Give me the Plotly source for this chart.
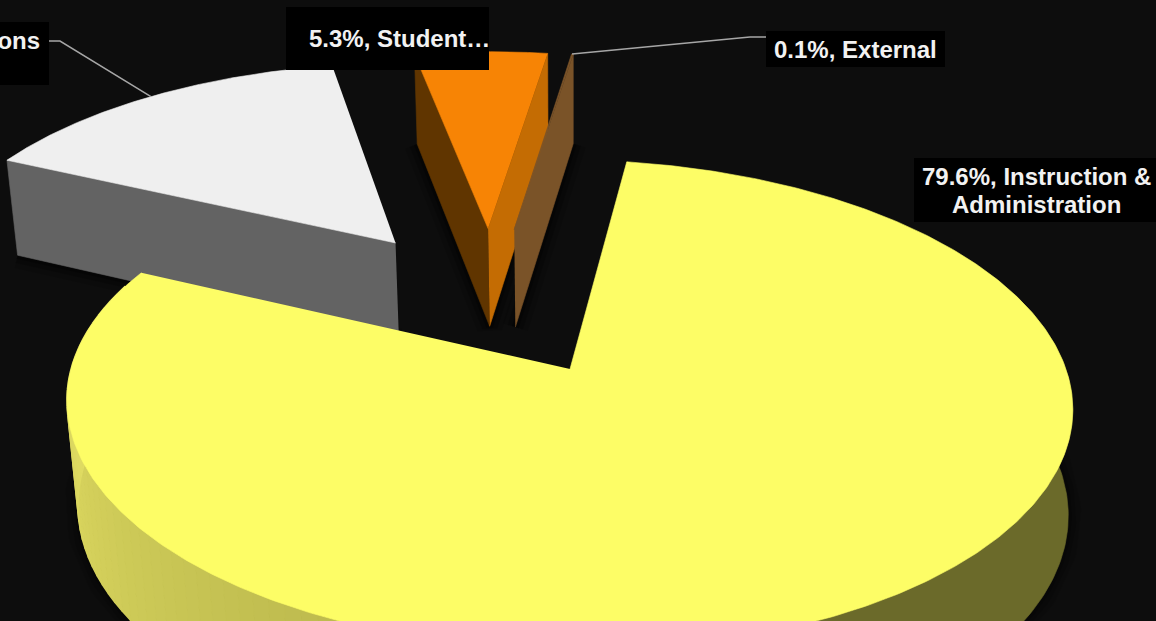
import numpy as np
import plotly.graph_objects as go

categories = ["Instruction &", "Operations", "Student…", "External"]
second_lines = ["Administration", "", "", ""]
values = [79.6, 15.0, 5.3, 0.1]
top_colors = ["#fdfd66", "#efefef", "#f78405", "#7a5328"]
left_face_colors = [None, "#636363", "#603500", None]
right_face_colors = [None, None, "#c46c03", "#7a5328"]

W, H = 1156, 621
START_DEG = 7.4
EXPLODE = 0.34
CX, CY, A, B, K, C, Q, ROLL_X, ROLL_Y = 570, 369, 497.5, 240, 0.147, 106, 0.022, 0.004, 0.01


def project(X, Y, d=0.0):
    X, Y = np.asarray(X, float), np.asarray(Y, float)
    q = Q * (1 - 0.6 * np.clip(X, 0, 1))
    w = 1 + K * Y + q * d
    dx, dy = A * X / w, (-B * Y + C * d) / w
    return CX + dx - ROLL_X * (-B * Y / w), CY + dy + ROLL_Y * dx


def polar(deg):
    r = np.radians(deg)
    return np.sin(r), np.cos(r)


fig = go.Figure()


def poly(xs, ys, color, lw=0.6):
    fig.add_trace(go.Scatter(x=list(xs), y=list(ys), mode="lines", fill="toself",
                             fillcolor=color, line=dict(color=color, width=lw),
                             hoverinfo="skip", showlegend=False))


def path(xs, ys, color, width):
    fig.add_trace(go.Scatter(x=list(xs), y=list(ys), mode="lines",
                             line=dict(color=color, width=width),
                             hoverinfo="skip", showlegend=False))


edges = START_DEG + np.cumsum([0] + values) * 3.6
mids = (edges[:-1] + edges[1:]) / 2
y_off = np.array(polar(mids[0])) * EXPLODE
centers = [np.array(polar(m)) * EXPLODE - y_off for m in mids]
centers[0] = np.zeros(2)


def rim(i, d=0.0, a0=None, a1=None, n=240):
    a = np.linspace(edges[i] if a0 is None else a0, edges[i + 1] if a1 is None else a1, n)
    sx, sy = polar(a)
    return project(centers[i][0] + sx, centers[i][1] + sy, d)


def radial(i, deg, d_color):
    c = centers[i]
    sx, sy = polar(deg)
    p = [project(c[0], c[1], 0), project(c[0] + sx, c[1] + sy, 0),
         project(c[0] + sx, c[1] + sy, 1), project(c[0], c[1], 1)]
    poly([q[0] for q in p], [q[1] for q in p], d_color)


def shadow_edge(xs, ys, scale=1.0):
    for width, alpha in ((26, 0.12), (16, 0.2), (7, 0.3)):
        path(xs, ys, f"rgba(0,0,0,{alpha * scale:.3f})", width)


# soft shadows under the lower edges
for i in (1, 2, 3):
    c = centers[i]
    pts = []
    if left_face_colors[i]:
        sx, sy = polar(edges[i])
        pts.append(project(c[0] + sx, c[1] + sy, 1))
    pts.append(project(c[0], c[1], 1))
    if right_face_colors[i]:
        sx, sy = polar(edges[i + 1])
        pts.append(project(c[0] + sx, c[1] + sy, 1))
    shadow_edge([q[0] for q in pts], [q[1] for q in pts])
bx, by = rim(0, 1, 75, 285)
shadow_edge(bx, by, 0.7)

# Operations
radial(1, edges[1], left_face_colors[1])
x1, y1 = rim(1)
cx1, cy1 = project(*centers[1])
poly(np.r_[cx1, x1], np.r_[cy1, y1], top_colors[1])

# Student and External
for i in (2, 3):
    if left_face_colors[i]:
        radial(i, edges[i], left_face_colors[i])
    if right_face_colors[i]:
        radial(i, edges[i + 1], right_face_colors[i])
    xi, yi = rim(i)
    cxi, cyi = project(*centers[i])
    poly(np.r_[cxi, xi], np.r_[cyi, yi], top_colors[i])


# Instruction & Administration: outer wall in narrow shaded bands
def wall_color(deg):
    t = (deg - 204) / (270 - 204)
    r = 189 + (224 - 189) * t
    g = 186 + (220 - 186) * t
    b = 78 + (98 - 78) * t
    return f"rgb({r:.0f},{g:.0f},{b:.0f})"


tx, ty = rim(0, 0, 70, 180, 120)
ux, uy = rim(0, 1, 70, 180, 120)
poly(np.r_[tx, ux[::-1]], np.r_[ty, uy[::-1]], "#6b6a2a")
bands = np.arange(180, 292, 2.0)
for a0, a1 in zip(bands[:-1], bands[1:]):
    tx, ty = rim(0, 0, a0, a1, 4)
    ux, uy = rim(0, 1, a0, a1, 4)
    poly(np.r_[tx, ux[::-1]], np.r_[ty, uy[::-1]], wall_color((a0 + a1) / 2), lw=1.6)

x0, y0 = rim(0, n=500)
poly(np.r_[CX, x0], np.r_[CY, y0], top_colors[0])

# leader lines
ex, ey = polar(mids[1])
ox, oy = project(centers[1][0] + ex, centers[1][1] + ey)
path([49, 60, float(ox)], [41, 41, float(oy)], "#a6a6a6", 1.5)
ex, ey = polar(mids[3])
ox, oy = project(centers[3][0] + ex, centers[3][1] + ey)
path([766, 750, float(ox)], [37, 37, float(oy)], "#a6a6a6", 1.5)

font = dict(family="Liberation Sans, Arial, sans-serif", size=24, color="#f2f2f2")


def label(lines, box, tx, tys, anchor="center"):
    fig.add_shape(type="rect", x0=box[0], x1=box[1], y0=box[2], y1=box[3], xref="x", yref="y",
                  fillcolor="#000000", line=dict(width=0), layer="above")
    for text, ty in zip(lines, tys):
        fig.add_annotation(text=f"<b>{text}</b>", x=tx, y=ty, xanchor=anchor, yanchor="middle",
                           xref="x", yref="y", showarrow=False, font=font, borderpad=0)


label([f"{values[0]}%, {categories[0]}", second_lines[0]], (914, 1160, 158, 222), 1036, (176, 204))
label([f"{values[1]}%, {categories[1]}"], (-181, 49, 22, 85), 41, (40,), anchor="right")
label([f"{values[2]}%, {categories[2]}"], (286, 489, 7, 70), 491, (38,), anchor="right")
label([f"{values[3]}%, {categories[3]}"], (766, 945, 31, 67), 855, (49,))

fig.update_layout(
    width=W, height=H, margin=dict(l=0, r=0, t=0, b=0),
    paper_bgcolor="#0d0d0d", plot_bgcolor="#0d0d0d", showlegend=False,
    xaxis=dict(range=[0, W], visible=False, fixedrange=True),
    yaxis=dict(range=[H, 0], visible=False, fixedrange=True),
)
fig.write_html("out.html", config={"displayModeBar": False},
               post_script="document.body.style.margin='0';document.body.style.overflow='hidden';document.body.style.background='#0d0d0d';")
